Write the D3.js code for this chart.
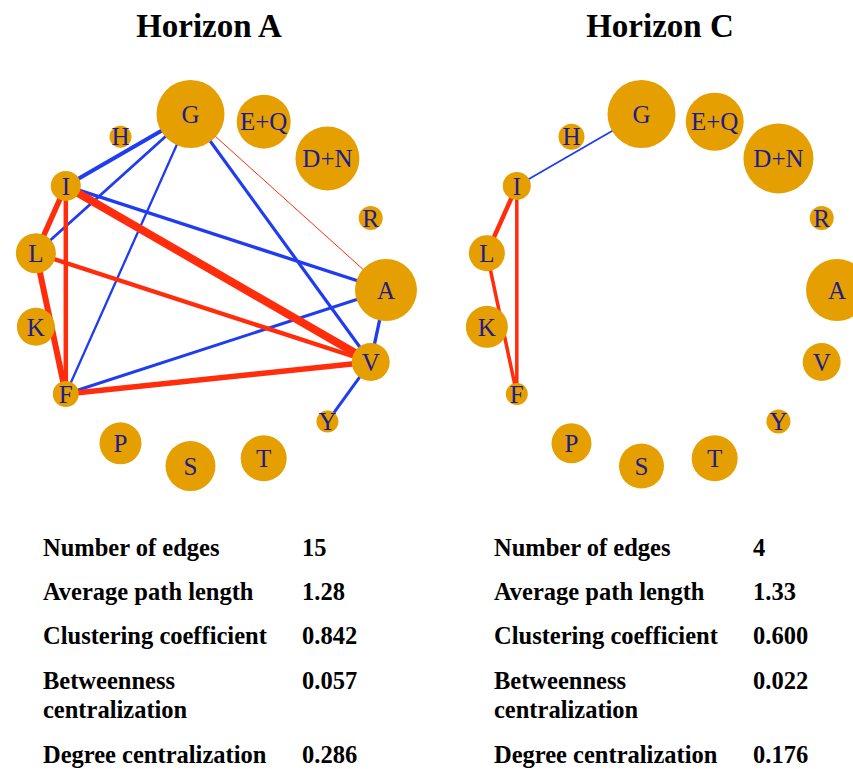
<!DOCTYPE html>
<html>
<head>
<meta charset="utf-8">
<script src="https://cdn.jsdelivr.net/npm/d3@7"></script>
<style>
  html, body { margin: 0; padding: 0; background: #fff; }
  svg { display: block; }
</style>
</head>
<body>
<div id="chart"></div>
<script>
// taxa in igraph circle order (starting at 3 o'clock, counter-clockwise)
const taxa = ["A", "R", "D+N", "E+Q", "G", "H", "I", "L", "K", "F", "P", "S", "T", "Y", "V"];

// node sizes
const sizeA = [31, 12, 32, 27, 34, 11, 15, 20, 19, 13, 21, 25, 23, 11, 19];
const sizeC = [31, 12, 35, 29, 34, 13, 14, 18, 21, 11, 20, 22.5, 23, 12, 19];

// edges: [from, to, weight, sign]  (pos = red, neg = blue)
const edgesA = [
    ["G", "I", 4, "neg"],
    ["G", "L", 2.8, "neg"],
    ["G", "F", 2.3, "neg"],
    ["G", "V", 3.2, "neg"],
    ["G", "A", 1, "pos"],
    ["I", "A", 3.4, "neg"],
    ["A", "V", 3.4, "neg"],
    ["A", "F", 3, "neg"],
    ["V", "Y", 3, "neg"],
    ["I", "V", 8, "pos"],
    ["L", "V", 4.4, "pos"],
    ["F", "V", 5.5, "pos"],
    ["I", "L", 5.5, "pos"],
    ["I", "F", 4.5, "pos"],
    ["L", "F", 6, "pos"]
];
const edgesC = [
    ["G", "I", 1.8, "neg"],
    ["I", "L", 4.5, "pos"],
    ["L", "F", 3.5, "pos"],
    ["I", "F", 3.5, "pos"]
];

const titles = ["Horizon A", "Horizon C"];
const statLabels = ["Number of edges", "Average path length", "Clustering coefficient",
    ["Betweenness", "centralization"], "Degree centralization"];
const statsA = ["15", "1.28", "0.842", "0.057", "0.286"];
const statsC = ["4", "1.33", "0.600", "0.022", "0.176"];

const width = 853, height = 769;
const ring_radius = 177, center_y = 290;
const node_color = "#e69f00", label_color = "#1c1c8c";
const edge_colors = {pos: "#ff2d0c", neg: "#1f3cf0"};
const serif = "'Liberation Serif', 'Times New Roman', serif";

const svg = d3.select("#chart").append("svg")
    .attr("width", width)
    .attr("height", height);

const angle = d3.scaleLinear().domain([0, taxa.length]).range([Math.PI / 2, Math.PI / 2 - 2 * Math.PI]);
const rScale = d3.scaleLinear().domain([0, 35]).range([0, 35]);
const wScale = d3.scaleLinear().domain([0, 8]).range([0, 8]);
const panelX = d3.scalePoint().domain([0, 1]).range([209, 660]);

function drawPanel(p, sizes, edges, stats) {
    const cx = panelX(p);
    const g = svg.append("g").attr("transform", "translate(" + cx + "," + center_y + ")");

    const pos = {};
    taxa.forEach(function (t, i) {
        pos[t] = d3.pointRadial(angle(i), ring_radius);
    });

    g.append("g").selectAll("line")
        .data(edges)
        .enter()
        .append("line")
        .attr("x1", d => pos[d[0]][0])
        .attr("y1", d => pos[d[0]][1])
        .attr("x2", d => pos[d[1]][0])
        .attr("y2", d => pos[d[1]][1])
        .attr("stroke", d => edge_colors[d[3]])
        .attr("stroke-width", d => wScale(d[2]));

    const nodes = g.append("g").selectAll("g")
        .data(taxa)
        .enter()
        .append("g")
        .attr("transform", d => "translate(" + pos[d][0] + "," + pos[d][1] + ")");

    nodes.append("circle")
        .attr("r", (d, i) => rScale(sizes[i]))
        .attr("fill", node_color);

    nodes.append("text")
        .text(d => d)
        .attr("text-anchor", "middle")
        .attr("dy", "0.35em")
        .attr("font-family", serif)
        .attr("font-size", "25px")
        .attr("fill", label_color);

    // title
    svg.append("text")
        .text(titles[p])
        .attr("x", cx)
        .attr("y", 37)
        .attr("text-anchor", "middle")
        .attr("font-family", serif)
        .attr("font-weight", "bold")
        .attr("font-size", "33px")
        .attr("fill", "#000");

    // stats table
    const tx = cx - 166, vx = cx + 93;
    const rowYs = [556, 600, 644, 689, 763];
    statLabels.forEach(function (lab, i) {
        const lines = Array.isArray(lab) ? lab : [lab];
        const t = svg.append("text")
            .attr("x", tx)
            .attr("y", rowYs[i])
            .attr("font-family", serif)
            .attr("font-weight", "bold")
            .attr("font-size", "24.5px")
            .attr("fill", "#000");
        lines.forEach(function (ln, j) {
            t.append("tspan").attr("x", tx).attr("dy", j === 0 ? 0 : 29).text(ln);
        });
        svg.append("text")
            .text(stats[i])
            .attr("x", vx)
            .attr("y", rowYs[i])
            .attr("font-family", serif)
            .attr("font-weight", "bold")
            .attr("font-size", "24.5px")
            .attr("fill", "#000");
    });
}

drawPanel(0, sizeA, edgesA, statsA);
drawPanel(1, sizeC, edgesC, statsC);
</script>
</body>
</html>
